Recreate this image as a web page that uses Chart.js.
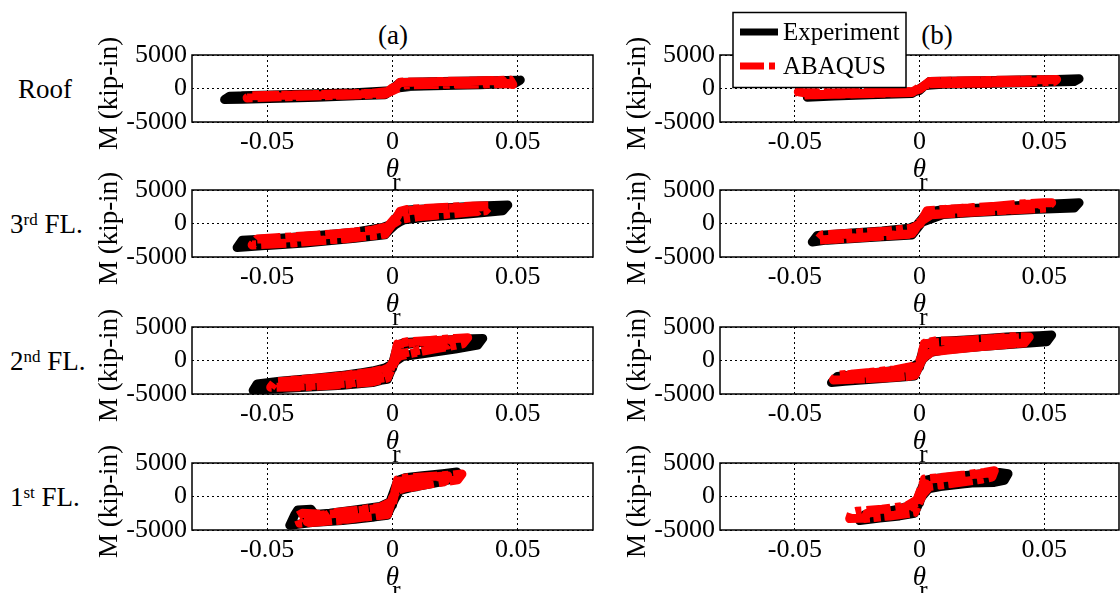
<!DOCTYPE html>
<html>
<head>
<meta charset="utf-8">
<script src="https://cdn.jsdelivr.net/npm/chart.js@4.4.0/dist/chart.umd.min.js"></script>
<style>
  body { margin: 0; background: #fff; }
  #page { position: relative; width: 1120px; height: 593px; overflow: hidden;
          font-family: "Liberation Serif", "Times New Roman", serif; color: #000; }
  #page canvas { position: absolute; }
  .rowlab { position: absolute; font-size: 27px; line-height: 30px; white-space: nowrap; }
  .rowlab sup { font-size: 17px; line-height: 0; vertical-align: 8px; }
  .ttl { position: absolute; width: 80px; font-size: 27px; line-height: 30px; text-align: center; }
</style>
</head>
<body>
<div id="page"></div>
<script>
// rotation (rad) vs moment (kip-in), hand
const roofA_exp = [[0,-200],[0.003,850],[0.015,1000],[0.03,1100],[0.045,1200],[0.051,1250],[0.049,800],[0.035,550],[0.02,450],[0.005,300],[0.001,0],[-0.003,-900],[-0.015,-1100],[-0.03,-1300],[-0.045,-1450],[-0.06,-1600],[-0.067,-1650],[-0.065,-1150],[-0.05,-1000],[-0.035,-850],[-0.02,-700],[-0.005,-550],[-0.001,-300],[0.003,900],[0.02,1050],[0.038,1150],[0.046,1200],[0.044,750],[0.025,500],[0.008,350],[0.001,50],[-0.003,-950],[-0.025,-1200],[-0.045,-1450],[-0.062,-1600],[-0.06,-1100],[-0.04,-900],[-0.015,-650],[-0.001,-350]];
const roofA_aba = [[0,-200],[0.003,900],[0.015,1000],[0.03,1100],[0.042,1200],[0.047,1250],[0.048,600],[0.046,750],[0.03,650],[0.015,600],[0.003,550],[0,100],[-0.003,-800],[-0.015,-950],[-0.03,-1100],[-0.045,-1250],[-0.058,-1400],[-0.056,-1100],[-0.045,-1000],[-0.03,-900],[-0.015,-800],[-0.003,-650],[0,-300],[0.003,950],[0.02,1050],[0.035,1150],[0.044,1150],[0.042,800],[0.025,700],[0.005,550],[-0.003,-850],[-0.02,-1000],[-0.04,-1200],[-0.052,-1300],[-0.05,-1050],[-0.03,-900],[-0.008,-700],[-0.001,-400]];

const roofB_exp = [[0,-200],[0.004,1000],[0.02,1100],[0.04,1250],[0.055,1350],[0.064,1450],[0.062,1050],[0.045,900],[0.025,750],[0.008,650],[0.002,400],[-0.003,-700],[-0.015,-850],[-0.03,-1050],[-0.045,-1300],[-0.043,-950],[-0.03,-850],[-0.015,-700],[-0.004,-600],[0,-300],[0.004,1050],[0.025,1150],[0.045,1300],[0.058,1350],[0.056,1000],[0.035,850],[0.012,700],[0.002,450],[-0.003,-750],[-0.02,-950],[-0.04,-1200],[-0.038,-900],[-0.02,-750],[-0.003,-600]];
const roofB_aba = [[0,-150],[0.004,1050],[0.02,1150],[0.035,1250],[0.05,1300],[0.055,1350],[0.054,1050],[0.04,950],[0.02,800],[0.005,700],[0.001,400],[-0.003,-550],[-0.02,-700],[-0.035,-850],[-0.048,-1000],[-0.0486,-500],[-0.046,-650],[-0.03,-650],[-0.015,-550],[-0.003,-450],[0,-100],[0.004,1050],[0.025,1150],[0.045,1250],[0.044,950],[0.025,800],[0.004,700],[-0.003,-600],[-0.025,-800],[-0.044,-950],[-0.042,-700],[-0.02,-600],[-0.002,-450]];

const thirdA_exp = [[0,-300],[0.003,1700],[0.006,2000],[0.02,2300],[0.035,2600],[0.046,2750],[0.044,1900],[0.03,1400],[0.015,1000],[0.004,500],[0.001,-200],[-0.003,-1600],[-0.02,-2300],[-0.04,-3000],[-0.055,-3400],[-0.062,-3600],[-0.06,-2500],[-0.045,-2200],[-0.03,-1800],[-0.015,-1300],[-0.004,-600],[-0.001,-200],[0.003,1600],[0.008,2000],[0.025,2400],[0.04,2600],[0.038,1800],[0.02,1200],[0.005,600],[0.001,-100],[-0.003,-1700],[-0.015,-2200],[-0.035,-2900],[-0.05,-3300],[-0.048,-2500],[-0.03,-1900],[-0.01,-1100],[-0.001,-400]];
const thirdA_aba = [[0,-200],[0.003,1800],[0.006,2100],[0.02,2400],[0.032,2600],[0.039,2650],[0.037,1900],[0.025,1500],[0.01,1000],[0.003,600],[0,-100],[-0.003,-1500],[-0.008,-1800],[-0.025,-2400],[-0.045,-3000],[-0.056,-3200],[-0.054,-2300],[-0.04,-2000],[-0.025,-1600],[-0.01,-1100],[-0.002,-500],[0.003,1700],[0.01,2100],[0.028,2400],[0.036,2500],[0.034,1800],[0.015,1200],[0.003,700],[0,-100],[-0.003,-1600],[-0.02,-2300],[-0.04,-2900],[-0.05,-3100],[-0.048,-2300],[-0.03,-1800],[-0.008,-1000],[-0.001,-400]];

const thirdB_exp = [[0,-300],[0.003,1700],[0.008,2000],[0.025,2300],[0.045,2800],[0.058,3000],[0.064,3100],[0.062,2300],[0.045,2100],[0.025,1700],[0.008,1300],[0.001,200],[-0.003,-1600],[-0.01,-1800],[-0.025,-2200],[-0.038,-2500],[-0.043,-2750],[-0.041,-1800],[-0.03,-1500],[-0.015,-1100],[-0.004,-700],[-0.001,-200],[0.003,1600],[0.012,2000],[0.035,2500],[0.054,2900],[0.052,2200],[0.03,1800],[0.01,1400],[0.001,200],[-0.003,-1700],[-0.02,-2100],[-0.037,-2500],[-0.035,-1800],[-0.015,-1200],[-0.002,-600]];
const thirdB_aba = [[0,-200],[0.003,1900],[0.01,2100],[0.025,2400],[0.04,2900],[0.05,3100],[0.053,3100],[0.051,2300],[0.035,2000],[0.017,1600],[0.004,1300],[0,200],[-0.003,-1500],[-0.01,-1700],[-0.025,-2100],[-0.041,-2500],[-0.039,-1700],[-0.025,-1400],[-0.012,-1100],[-0.003,-700],[0,-100],[0.003,1800],[0.015,2200],[0.035,2700],[0.048,3000],[0.046,2300],[0.025,1800],[0.005,1400],[0,200],[-0.003,-1600],[-0.02,-2000],[-0.036,-2400],[-0.034,-1700],[-0.015,-1200],[-0.002,-700]];

const secondA_exp = [[0,-1200],[0.002,2300],[0.005,2700],[0.015,2900],[0.028,3200],[0.036,3300],[0.034,2300],[0.025,1700],[0.012,1000],[0.004,600],[0.001,-200],[-0.002,-2700],[-0.008,-3300],[-0.02,-3700],[-0.035,-4000],[-0.05,-4300],[-0.0556,-4450],[-0.054,-3500],[-0.045,-3100],[-0.03,-2600],[-0.015,-2000],[-0.004,-1300],[0,-500],[0.002,2200],[0.012,2700],[0.025,3000],[0.032,3100],[0.03,2200],[0.018,1400],[0.005,800],[0.001,0],[-0.002,-2800],[-0.015,-3500],[-0.03,-3900],[-0.046,-4200],[-0.044,-3300],[-0.025,-2500],[-0.008,-1600],[-0.001,-900]];
const secondA_aba = [[0,-1000],[0.002,2500],[0.006,2800],[0.015,3000],[0.025,3300],[0.03,3400],[0.028,2500],[0.018,1800],[0.008,1100],[0.003,700],[0,-300],[-0.002,-2600],[-0.008,-3200],[-0.02,-3600],[-0.035,-3900],[-0.0486,-4000],[-0.047,-3200],[-0.035,-2900],[-0.02,-2300],[-0.008,-1700],[-0.002,-1200],[0.001,-200],[0.002,2400],[0.012,2800],[0.024,3100],[0.022,2300],[0.01,1500],[0.002,900],[-0.002,-2500],[-0.015,-3300],[-0.03,-3700],[-0.043,-3900],[-0.041,-3000],[-0.025,-2500],[-0.006,-1800],[-0.001,-1000]];

const secondB_exp = [[0,-1000],[0.002,2400],[0.006,2800],[0.02,3100],[0.035,3500],[0.048,3700],[0.053,3800],[0.051,2800],[0.04,2500],[0.025,2100],[0.01,1600],[0.003,1100],[0.001,0],[-0.002,-2300],[-0.008,-2500],[-0.02,-2800],[-0.03,-3100],[-0.0353,-3300],[-0.033,-2400],[-0.02,-1900],[-0.01,-1500],[-0.003,-1000],[0,-300],[0.002,2300],[0.012,2900],[0.03,3300],[0.046,3600],[0.044,2700],[0.025,2200],[0.005,1400],[0.001,100],[-0.002,-2300],[-0.015,-2700],[-0.03,-3100],[-0.028,-2200],[-0.012,-1700],[-0.001,-800]];
const secondB_aba = [[0,-800],[0.002,2600],[0.006,2900],[0.017,2950],[0.03,3300],[0.037,3550],[0.044,3520],[0.042,2600],[0.03,2300],[0.017,1800],[0.005,1300],[0.001,200],[-0.002,-2200],[-0.008,-2400],[-0.02,-2700],[-0.0345,-2900],[-0.033,-2200],[-0.02,-1800],[-0.01,-1400],[-0.003,-900],[0,-200],[0.002,2500],[0.015,2900],[0.03,3300],[0.04,3400],[0.038,2500],[0.02,1900],[0.004,1300],[0.001,100],[-0.002,-2300],[-0.015,-2600],[-0.03,-2800],[-0.028,-2100],[-0.012,-1600],[-0.001,-900]];

const firstA_exp = [[0,-1300],[0.002,2400],[0.005,2800],[0.012,3100],[0.02,3400],[0.0257,3650],[0.024,2600],[0.015,1900],[0.007,1300],[0.003,900],[0.001,-300],[-0.002,-2700],[-0.008,-3100],[-0.02,-3600],[-0.032,-3900],[-0.041,-4300],[-0.039,-2700],[-0.0378,-2000],[-0.0325,-1900],[-0.031,-2700],[-0.025,-2500],[-0.015,-2000],[-0.005,-1500],[-0.001,-800],[0.002,2300],[0.01,2800],[0.022,3200],[0.021,2300],[0.01,1500],[0.002,1000],[0,-300],[-0.002,-2800],[-0.015,-3400],[-0.03,-3800],[-0.036,-4000],[-0.034,-3100],[-0.02,-2500],[-0.006,-1800],[-0.001,-900]];
const firstA_aba = [[0,-1000],[0.002,2500],[0.006,2800],[0.015,3000],[0.024,3200],[0.0277,3350],[0.026,2500],[0.017,2000],[0.008,1400],[0.002,1000],[0,-200],[-0.002,-2600],[-0.01,-3000],[-0.02,-3500],[-0.03,-3800],[-0.037,-4000],[-0.038,-2950],[-0.036,-2500],[-0.03,-2600],[-0.028,-3300],[-0.025,-2500],[-0.015,-2100],[-0.005,-1600],[0,-700],[0.002,2300],[0.012,2800],[0.022,3100],[0.021,2300],[0.01,1600],[0.002,1100],[0,-200],[-0.002,-2700],[-0.012,-3100],[-0.025,-3600],[-0.034,-3800],[-0.033,-3000],[-0.02,-2400],[-0.006,-1800],[-0.001,-1000]];

const firstB_exp = [[0,-1000],[0.002,2400],[0.006,2700],[0.015,3000],[0.025,3400],[0.032,3600],[0.0355,3400],[0.034,2400],[0.03,2100],[0.02,2000],[0.01,1600],[0.003,1100],[0.001,100],[-0.002,-2500],[-0.008,-2900],[-0.016,-3200],[-0.024,-3600],[-0.022,-2700],[-0.012,-2200],[-0.004,-1400],[-0.001,-600],[0.002,2300],[0.012,2800],[0.024,3300],[0.03,3400],[0.029,2300],[0.018,1900],[0.004,1300],[0.001,0],[-0.002,-2500],[-0.012,-3000],[-0.02,-3300],[-0.018,-2500],[-0.006,-1800],[-0.001,-800]];
const firstB_aba = [[0,-800],[0.002,2600],[0.008,2800],[0.018,3200],[0.026,3600],[0.03,3850],[0.029,2900],[0.022,2400],[0.012,1900],[0.004,1500],[0.001,200],[-0.002,-2300],[-0.01,-2800],[-0.02,-3200],[-0.028,-3300],[-0.0272,-2400],[-0.025,-2200],[-0.015,-1900],[-0.005,-1400],[-0.001,-500],[0.002,2500],[0.012,2900],[0.022,3300],[0.028,3500],[0.027,2700],[0.015,2100],[0.003,1600],[0.001,100],[-0.002,-2400],[-0.012,-2900],[-0.022,-3300],[-0.021,-2500],[-0.008,-1900],[-0.001,-900]];

const xTicks = [-0.05, 0, 0.05];
const yTicks = [-5000, 0, 5000];
const floorNums = ['Roof', '3', '2', '1'];
const floorSups = ['', 'rd', 'nd', 'st'];
const colTitles = ['(a)', '(b)'];
const seriesNames = ['Experiment', 'ABAQUS'];

const expRows = [[roofA_exp, roofB_exp], [thirdA_exp, thirdB_exp], [secondA_exp, secondB_exp], [firstA_exp, firstB_exp]];
const abaRows = [[roofA_aba, roofB_aba], [thirdA_aba, thirdB_aba], [secondA_aba, secondB_aba], [firstA_aba, firstB_aba]];

// page layout (px)
const colLeft = [192, 720];
const colRight = [593, 1119];
const rowTop = [55, 190, 327, 463];
const plotH = 67;
const padL = 115, padT = 45, padB = 80, padR = 6;

const FONT = '"Liberation Serif", "Times New Roman", serif';
const page = document.getElementById('page');

const framePlugin = {
  id: 'frame',
  afterDraw(chart, args, opts) {
    const { ctx, chartArea: a } = chart;
    const cx = (a.left + a.right) / 2;
    ctx.save();
    ctx.strokeStyle = '#000';
    ctx.lineWidth = 1.5;
    ctx.strokeRect(a.left, a.top, a.right - a.left, a.bottom - a.top);

    ctx.fillStyle = '#000';
    // x title: theta_r
    ctx.textAlign = 'center';
    ctx.textBaseline = 'alphabetic';
    ctx.font = 'italic 27px ' + FONT;
    ctx.fillText('\u03b8', cx, a.bottom + 55);
    ctx.font = '25px ' + FONT;
    ctx.fillText('r', cx + 4, a.bottom + 68);

    // y title
    ctx.save();
    ctx.translate(a.left - 82, (a.top + a.bottom) / 2 + 5);
    ctx.rotate(-Math.PI / 2);
    ctx.font = '27px ' + FONT;
    ctx.textBaseline = 'middle';
    ctx.fillText('M (kip-in)', 0, 0);
    ctx.restore();

    if (opts.legend) {
      const lx = a.left + 13, ly = a.top - 42.5;
      ctx.fillStyle = '#fff';
      ctx.fillRect(lx, ly, 173, 75);
      ctx.lineWidth = 1.5;
      ctx.strokeRect(lx, ly, 173, 75);
      const ds = chart.data.datasets;
      const rows = [[ds[1], a.top - 23], [ds[0], a.top + 11]];
      rows.forEach(([d, y]) => {
        ctx.beginPath();
        ctx.lineWidth = 7;
        ctx.strokeStyle = d.borderColor;
        ctx.setLineDash(d.borderDash || []);
        ctx.lineCap = 'butt';
        ctx.moveTo(a.left + 20, y);
        ctx.lineTo(a.left + 58, y);
        ctx.stroke();
        ctx.setLineDash([]);
        ctx.fillStyle = '#000';
        ctx.font = '25px ' + FONT;
        ctx.textAlign = 'left';
        ctx.textBaseline = 'middle';
        ctx.fillText(d.label, a.left + 63, y + 1.5);
      });
    }
    ctx.restore();
  }
};

function makePanel(r, c) {
  const cv = document.createElement('canvas');
  const w = colRight[c] - colLeft[c] + padL + padR;
  const h = padT + plotH + padB;
  cv.width = w;
  cv.height = h;
  cv.style.left = (colLeft[c] - padL) + 'px';
  cv.style.top = (rowTop[r] - padT) + 'px';
  page.appendChild(cv);

  const tickFont = { family: FONT, size: 26 };
  new Chart(cv, {
    type: 'scatter',
    data: {
      datasets: [
        { label: seriesNames[1], data: abaRows[r][c].map(p => ({ x: p[0], y: p[1] })),
          showLine: true, pointRadius: 0, borderColor: '#ff0000', borderWidth: 9,
          borderDash: [24, 5, 6, 5], borderCapStyle: 'butt', borderJoinStyle: 'round', order: 0 },
        { label: seriesNames[0], data: expRows[r][c].map(p => ({ x: p[0], y: p[1] })),
          showLine: true, pointRadius: 0, borderColor: '#000000', borderWidth: 9,
          borderCapStyle: 'round', borderJoinStyle: 'round', order: 1 }
      ]
    },
    options: {
      responsive: false,
      animation: false,
      devicePixelRatio: 1,
      layout: { padding: { top: padT, right: padR, left: 0, bottom: 0 } },
      plugins: { legend: { display: false }, tooltip: { enabled: false },
                 frame: { legend: r === 0 && c === 1 } },
      scales: {
        x: {
          type: 'linear', min: -0.08, max: 0.08,
          afterBuildTicks: s => { s.ticks = xTicks.map(v => ({ value: v })); },
          afterFit: s => { s.height = padB; },
          ticks: { callback: v => String(v), color: '#000', font: tickFont, padding: 5,
                   maxRotation: 0, autoSkip: false },
          grid: { color: '#000', lineWidth: 1, drawTicks: false },
          border: { display: false, dash: [2, 3] }
        },
        y: {
          min: -5000, max: 5000,
          afterBuildTicks: s => { s.ticks = yTicks.map(v => ({ value: v })); },
          afterFit: s => { s.width = padL; },
          ticks: { callback: v => String(v), color: '#000', font: tickFont, padding: 5,
                   autoSkip: false },
          grid: { color: '#000', lineWidth: 1, drawTicks: false },
          border: { display: false, dash: [2, 3] }
        }
      }
    },
    plugins: [framePlugin]
  });
}

// row labels and column titles
floorNums.forEach((n, r) => {
  const d = document.createElement('div');
  d.className = 'rowlab';
  d.style.left = (r === 0 ? 18 : 10) + 'px';
  d.style.top = (rowTop[r] + plotH / 2 - 15) + 'px';
  d.innerHTML = r === 0 ? n : n + '<sup>' + floorSups[r] + '</sup> FL.';
  page.appendChild(d);
});
const titleCenters = [393, 937];
colTitles.forEach((t, c) => {
  const d = document.createElement('div');
  d.className = 'ttl';
  d.style.left = (titleCenters[c] - 40) + 'px';
  d.style.top = '20px';
  d.textContent = t;
  page.appendChild(d);
});

for (let r = 0; r < 4; r++) {
  for (let c = 0; c < 2; c++) makePanel(r, c);
}
</script>
</body>
</html>
